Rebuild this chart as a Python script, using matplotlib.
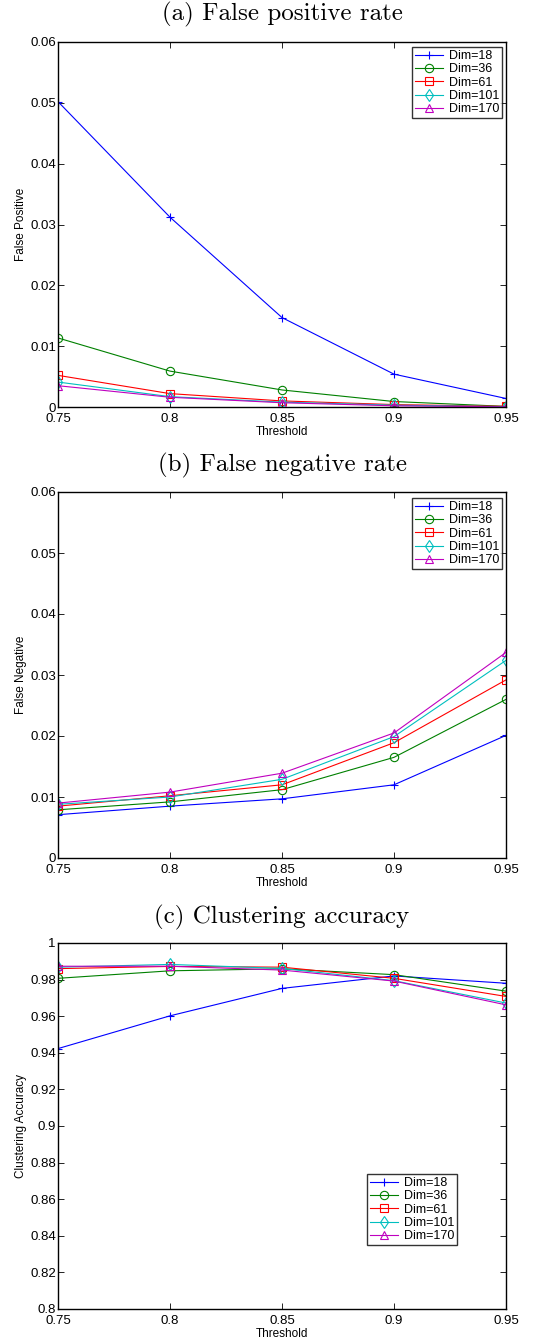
import matplotlib
matplotlib.use("Agg")
import matplotlib.pyplot as plt
import numpy as np

plt.rcParams['font.family'] = ['Liberation Sans', 'DejaVu Sans']

thresholds = [0.75, 0.8, 0.85, 0.9, 0.95]
dims = ["Dim=18", "Dim=36", "Dim=61", "Dim=101", "Dim=170"]

# false positive rate
fp_18 = [0.0502, 0.0312, 0.0147, 0.0054, 0.0014]
fp_36 = [0.01135, 0.0059, 0.0028, 0.0009, 0.0001]
fp_61 = [0.0052, 0.0022, 0.0010, 0.0004, 0.0001]
fp_101 = [0.0041, 0.0017, 0.0008, 0.0003, 0.00005]
fp_170 = [0.0035, 0.0016, 0.0007, 0.0002, 0.00003]

# false negative rate
fn_18 = [0.0071, 0.0085, 0.0097, 0.0120, 0.0201]
fn_36 = [0.0079, 0.0092, 0.0112, 0.0165, 0.0260]
fn_61 = [0.0085, 0.0102, 0.0120, 0.0189, 0.0292]
fn_101 = [0.0088, 0.0100, 0.0129, 0.0199, 0.0324]
fn_170 = [0.0090, 0.0108, 0.0139, 0.0205, 0.0337]

# clustering accuracy
acc_18 = [0.9423, 0.9602, 0.9752, 0.9820, 0.9780]
acc_36 = [0.9807, 0.9848, 0.9859, 0.9827, 0.9737]
acc_61 = [0.9860, 0.9872, 0.9868, 0.9807, 0.9708]
acc_101 = [0.9868, 0.9883, 0.9861, 0.9794, 0.9672]
acc_170 = [0.9873, 0.9873, 0.9852, 0.9792, 0.9662]

colors = ['#0000ff', '#008000', '#ff0000', '#00bfbf', '#bf00bf']
markers = ['+', 'o', 's', 'd', '^']

W, H = 539, 1341
fig = plt.figure(figsize=(W / 100, H / 100), dpi=100)

panels = [
    ("(a) False positive rate", "False Positive", [fp_18, fp_36, fp_61, fp_101, fp_170],
     (0, 0.06), np.arange(0, 0.061, 0.01), ['0', '0.01', '0.02', '0.03', '0.04', '0.05', '0.06'],
     42, 407, 14, (412, 47)),
    ("(b) False negative rate", "False Negative", [fn_18, fn_36, fn_61, fn_101, fn_170],
     (0, 0.06), np.arange(0, 0.061, 0.01), ['0', '0.01', '0.02', '0.03', '0.04', '0.05', '0.06'],
     492, 858, 465, (412, 498)),
    ("(c) Clustering accuracy", "Clustering Accuracy", [acc_18, acc_36, acc_61, acc_101, acc_170],
     (0.8, 1.0), np.arange(0.8, 1.001, 0.02), ['0.8', '0.82', '0.84', '0.86', '0.88', '0.9', '0.92', '0.94', '0.96', '0.98', '1'],
     943, 1309, 917, (367, 1174)),
]

left, right = 58, 506
for title, ylabel, series, ylim, yticks, yticklabels, top, bottom, title_y, leg_xy in panels:
    ax = fig.add_axes([left / W, 1 - bottom / H, (right - left) / W, (bottom - top) / H])
    for ys, c, m, lab in zip(series, colors, markers, dims):
        ax.plot(thresholds, ys, color=c, marker=m, markersize=6, markerfacecolor='none',
                markeredgecolor=c, linewidth=0.8, markeredgewidth=0.8, label=lab)
    ax.set_xlim(0.75, 0.95)
    ax.set_ylim(*ylim)
    ax.set_xticks(thresholds)
    ax.set_xticklabels(['0.75', '0.8', '0.85', '0.9', '0.95'])
    ax.set_yticks(yticks)
    ax.set_yticklabels(yticklabels)
    ax.tick_params(direction='in', top=True, right=True, labelsize=9.5, length=4, width=0.6)
    ax.tick_params(axis='x', pad=4)
    ax.tick_params(axis='y', pad=1.5)
    for s in ax.spines.values():
        s.set_linewidth(1.0)
    ax.set_xlabel("Threshold", fontsize=8.5, labelpad=1)
    ax.set_ylabel(ylabel, fontsize=8.5, labelpad=2)
    fig.text(0.5 * (left + right) / W, 1 - title_y / H, title, ha='center', va='center',
             fontsize=18, family=['cmr10', 'DejaVu Serif'])
    lx, ly = leg_xy
    leg = ax.legend(loc='upper left', bbox_to_anchor=(lx / W, 1 - ly / H), bbox_transform=fig.transFigure,
                    fontsize=9, frameon=True, fancybox=False, borderpad=0.25, labelspacing=0.1,
                    handlelength=2.2, handletextpad=0.5, borderaxespad=0)
    leg.get_frame().set_edgecolor('black')
    leg.get_frame().set_linewidth(1.0)

fig.savefig("out.png", dpi=100)
